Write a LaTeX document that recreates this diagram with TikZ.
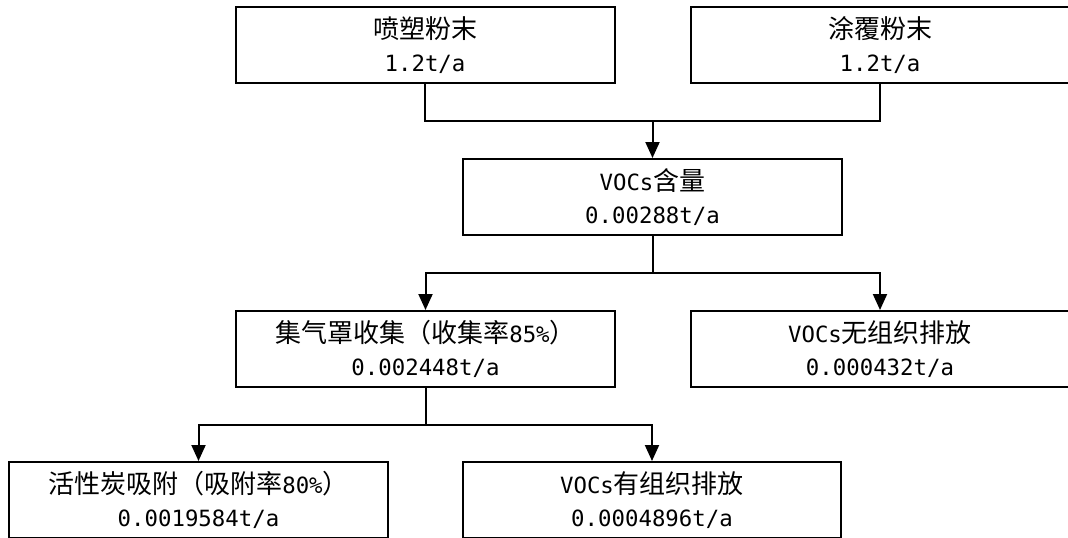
\documentclass[tikz,border=0pt]{standalone}
\usepackage{fontspec}
\setmainfont[Scale=0.86]{DejaVu Sans Mono}
\newfontfamily\cjk{Noto Sans CJK SC}
\usetikzlibrary{arrows.meta}
\begin{document}
\begin{tikzpicture}[x=1pt,y=-1pt,
  line width=2pt,
  box/.style={draw, line width=2pt, minimum width=379pt, minimum height=76pt,
    inner sep=0pt, align=center, font=\fontsize{26}{33}\selectfont},
  arr/.style={-{Triangle[length=16pt,width=14pt]}}]
\clip (0,0) rectangle (1068,538);
\node[box] (n1) at (425,45) {{\cjk 喷塑粉末}\\1.2t/a};
\node[box, minimum width=378pt] (n2) at (880,45) {{\cjk 涂覆粉末}\\1.2t/a};
\node[box] (n3) at (652.5,197) {VOCs{\cjk 含量}\\0.00288t/a};
\node[box] (n4) at (425.5,349) {{\cjk 集气罩收集（收集率}85\%{\cjk ）}\\0.002448t/a};
\node[box, minimum width=378pt] (n5) at (880,349) {VOCs{\cjk 无组织排放}\\0.000432t/a};
\node[box] (n6) at (198.5,500) {{\cjk 活性炭吸附（吸附率}80\%{\cjk ）}\\0.0019584t/a};
\node[box, minimum width=378pt] (n7) at (652,500) {VOCs{\cjk 有组织排放}\\0.0004896t/a};
\coordinate (j1) at (652.5,121);
\coordinate (j2) at (652.5,273);
\coordinate (j3) at (425.5,425);
\draw (n1.south) |- (j1);
\draw (n2.south) |- (j1);
\draw[arr] (j1) -- (n3.north);
\draw (n3.south) -- (j2);
\draw[arr] (j2) -| (n4.north);
\draw[arr] (j2) -| (n5.north);
\draw (n4.south) -- (j3);
\draw[arr] (j3) -| (n6.north);
\draw[arr] (j3) -| (n7.north);
\end{tikzpicture}
\end{document}
